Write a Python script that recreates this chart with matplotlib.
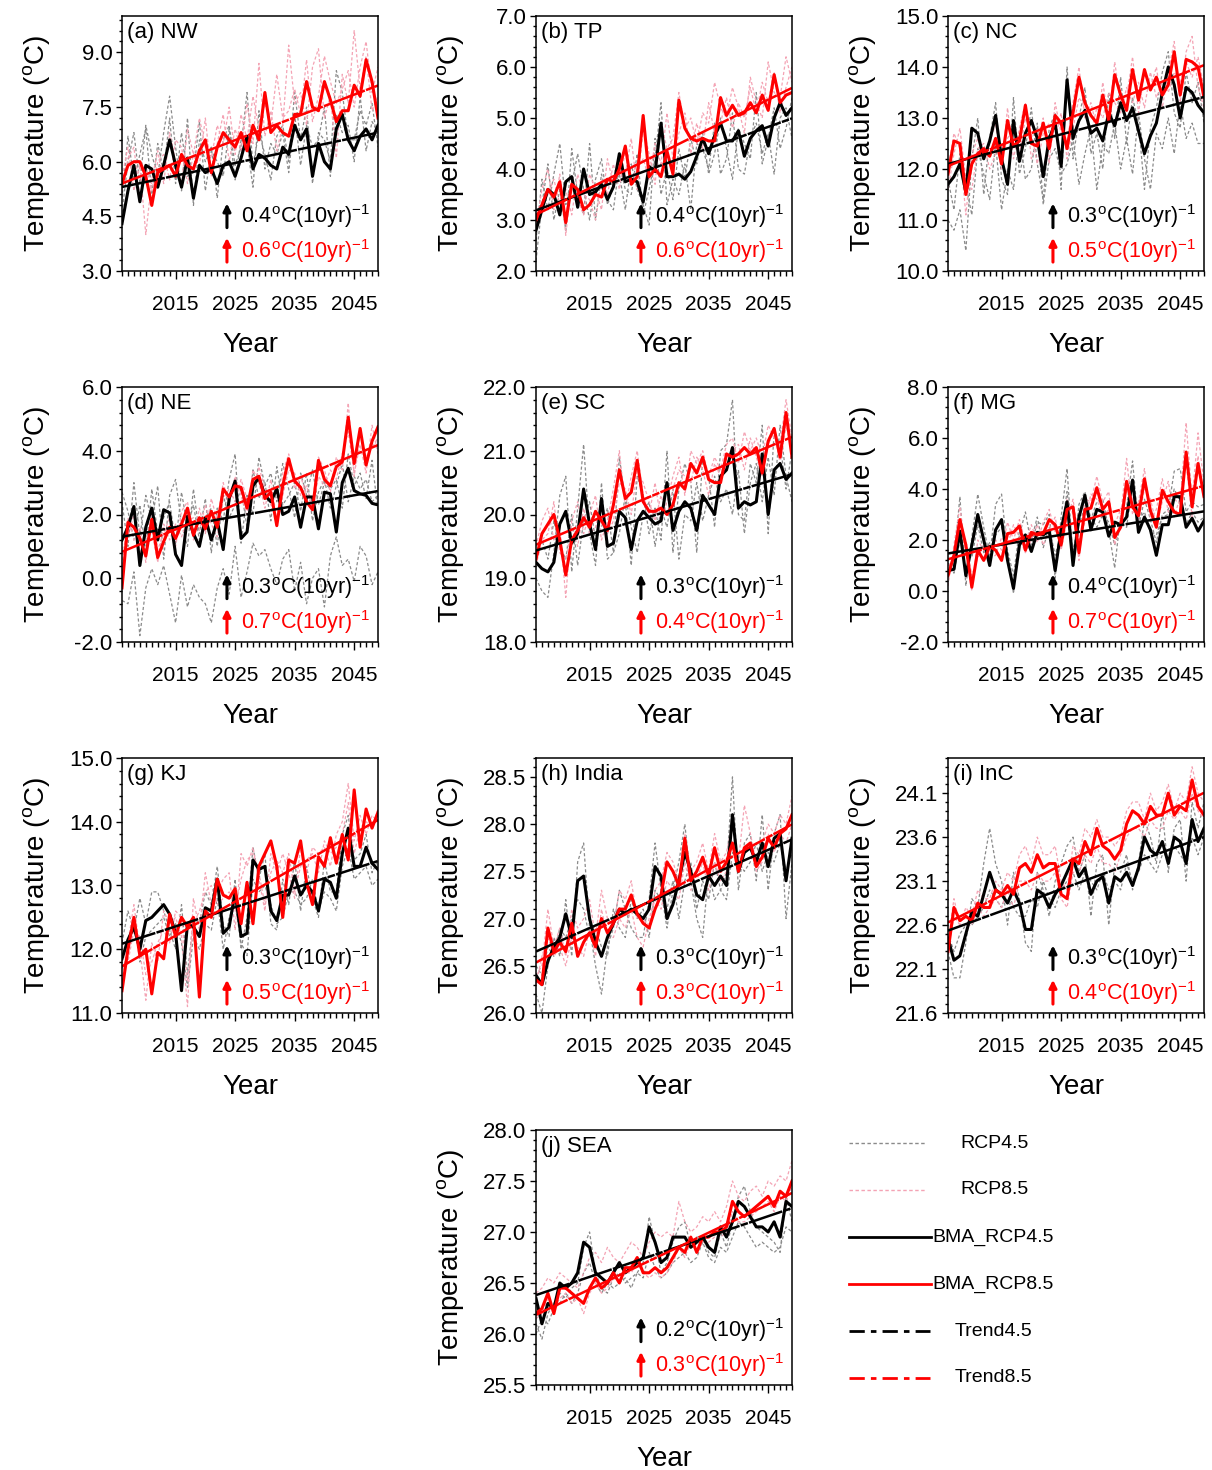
import matplotlib
matplotlib.use('Agg')
import matplotlib.pyplot as plt
from matplotlib.ticker import MultipleLocator, FixedLocator, FormatStrFormatter
import numpy as np

plt.rcParams['font.family'] = ['Liberation Sans', 'DejaVu Sans']
plt.rcParams['mathtext.fontset'] = 'custom'
plt.rcParams['mathtext.rm'] = 'Liberation Sans'
plt.rcParams['mathtext.it'] = 'Liberation Sans:italic'
plt.rcParams['mathtext.bf'] = 'Liberation Sans:bold'

years = np.arange(2006, 2050)

# ---- (a) NW ----
nw_bma45 = [4.3,5.2,5.9,4.9,5.9, 5.8,5.3,5.9,6.6,5.9, 5.3,6.1,5.0,5.9,5.7, 5.8,5.4,5.9,6.0,5.6,
            6.1,6.7,5.8,6.2,6.1, 5.9,5.8,6.4,6.2,7.0, 6.6,6.9,5.6,6.5,6.0, 5.8,6.9,7.3,6.6,6.3, 6.7,6.9,6.6,7.0]
nw_bma85 = [5.4,5.9,6.0,6.0,5.6, 4.8,5.7,5.8,5.9,5.6, 6.2,5.9,5.8,6.3,6.6, 5.7,6.4,6.8,6.6,6.4,
            6.8,6.3,7.0,6.6,7.9, 6.8,7.0,6.8,6.7,7.3, 7.3,8.2,7.5,7.4,8.2, 7.7,7.1,7.4,7.4,8.1, 7.8,8.8,8.2,7.2]
nw_rcp45 = [[4.6,6.0,6.8,5.4,7.0, 6.2,5.6,6.8,7.8,6.4, 5.2,7.2,4.8,6.6,6.0, 6.4,5.0,6.6,7.0,5.9,
             6.4,7.9,5.9,6.8,6.2, 5.5,6.7,7.0,6.0,7.9, 6.6,7.5,5.4,6.8,6.6, 6.0,8.5,7.9,6.6,6.6, 7.4,7.0,7.6,6.4],
            [5.0,6.7,5.5,6.2,6.9, 5.1,6.5,5.7,7.2,5.4, 6.8,5.6,5.7,7.1,5.2, 6.3,6.0,5.6,6.9,5.5,
             6.6,6.5,5.3,7.4,5.8, 6.5,6.2,6.8,5.7,7.3, 5.9,7.0,6.4,6.6,7.5, 5.6,7.3,6.8,7.0,6.0, 7.8,6.3,7.1,6.8]]
nw_rcp85 = [[5.6,6.4,5.2,5.9,4.0, 5.5,6.3,5.4,6.8,6.0, 5.4,6.9,6.2,5.9,7.2, 5.6,6.5,7.3,6.0,6.9,
             6.3,7.6,6.5,8.7,6.7, 7.4,6.3,7.0,9.2,7.6, 7.9,7.0,8.6,9.1,7.2, 7.8,6.1,8.4,7.6,9.6, 8.0,8.9,7.4,7.8],
            [5.2,6.1,6.4,5.0,5.9, 5.2,6.0,6.2,5.5,6.6, 6.4,5.4,6.2,7.2,6.4, 6.1,7.0,6.5,7.5,6.2,
             7.3,6.6,7.8,6.9,7.6, 7.0,8.4,7.2,7.4,8.0, 7.3,8.8,7.1,7.8,8.9, 8.2,7.6,8.0,8.5,7.5, 8.6,9.3,7.9,8.6]]

# ---- (b) TP ----
tp_bma45 = [2.8,3.2,3.6,3.5,3.1, 3.75,3.85,3.25,4.0,3.5, 3.55,3.7,3.4,3.65,4.3, 3.75,3.8,3.75,3.35,4.05,
            3.95,4.9,3.85,3.85,3.9, 3.8,3.95,4.25,4.6,4.3, 4.65,4.9,4.55,4.55,4.75, 4.25,4.6,4.75,4.85,4.45, 5.0,5.3,5.05,5.2]
tp_bma85 = [3.0,3.3,3.6,3.45,3.75, 2.95,3.7,3.6,3.2,3.3, 3.5,3.45,3.8,3.75,4.0, 4.45,3.7,3.85,5.05,3.85,
            4.0,3.85,4.35,3.9,5.35, 4.8,4.6,4.55,4.6,4.55, 4.55,5.4,5.05,5.25,5.05, 5.1,5.3,5.1,5.45,5.15, 5.85,5.3,5.45,5.5]
tp_rcp45 = [[2.2,3.3,4.1,3.0,3.6, 2.8,4.4,3.5,3.1,4.5, 3.0,3.9,3.4,3.2,4.1, 3.6,3.5,4.3,3.1,3.6,
             4.2,5.3,3.3,3.8,3.5, 4.1,3.2,4.5,4.4,4.0, 4.9,3.9,4.2,5.1,4.0, 3.9,4.6,4.9,4.3,4.7, 3.9,5.0,5.2,4.6],
            [2.6,3.8,3.2,3.9,4.5, 3.3,3.7,4.3,3.6,3.0, 3.8,4.2,3.3,3.7,3.9, 3.2,4.1,3.6,3.3,2.9,
             4.6,3.5,4.0,3.4,4.4, 3.8,4.6,4.1,4.7,3.9, 4.3,5.0,4.4,3.8,4.8, 4.5,4.2,5.5,4.1,4.6, 5.2,4.4,4.8,5.4]]
tp_rcp85 = [[2.9,3.6,4.0,3.2,3.9, 2.7,3.8,3.4,3.1,3.9, 3.6,3.2,4.2,3.7,4.3, 3.9,4.6,3.6,4.8,4.3,
             3.7,4.9,4.4,4.6,5.5, 4.8,5.0,4.5,5.1,4.9, 5.7,5.2,5.0,5.6,5.2, 4.7,5.8,5.3,5.0,6.1, 5.5,5.4,6.2,5.7],
            [3.1,3.3,3.5,3.8,3.3, 3.6,3.1,3.9,3.5,3.4, 3.0,3.8,3.5,4.1,3.6, 4.4,3.8,4.0,4.2,3.8,
             4.5,4.1,5.1,4.2,4.7, 5.1,4.3,4.9,4.4,5.3, 4.7,4.9,5.4,4.8,5.3, 5.0,5.6,5.1,5.7,5.3, 5.9,5.1,5.6,6.0]]

# ---- (c) NC ----
nc_bma45 = [11.7,11.85,12.1,11.55,12.8, 12.7,12.2,12.55,13.05,12.2, 11.7,12.95,12.15,12.7,12.95,
            12.6,11.85,12.6,12.9,12.05, 13.75,12.6,12.95,13.15,12.7, 12.8,12.55,13.1,12.85,13.3,
            12.95,13.2,12.75,12.3,12.65, 12.9,13.5,14.0,13.65,13.0, 13.6,13.5,13.25,13.1]
nc_bma85 = [11.9,12.55,12.5,11.5,12.1, 12.3,12.4,12.25,12.6,12.1, 12.95,12.45,12.55,13.25,12.5,
            12.45,12.9,12.4,13.05,12.9, 12.4,13.1,13.8,13.3,13.05, 12.9,13.45,12.95,13.85,13.45,
            13.15,13.95,13.35,13.95,13.55, 13.8,13.45,13.65,14.3,13.45, 14.15,14.1,14.0,13.4]
nc_rcp45 = [[11.0,10.8,11.2,10.4,12.2, 13.0,11.5,12.6,13.3,11.8, 11.5,13.4,11.9,12.4,13.2, 12.1,11.4,12.8,13.1,11.6,
             14.0,12.2,13.0,13.6,12.3, 12.7,12.0,13.5,12.6,13.8, 12.5,13.4,12.9,11.6,12.8, 13.2,13.9,14.3,13.1,12.8,
             13.9,13.3,13.7,12.9],
            [11.8,11.2,12.3,11.7,11.1, 12.4,11.9,11.4,12.5,11.2, 12.0,11.6,12.7,11.8,12.0, 12.9,11.3,12.2,12.4,11.9,
             12.1,12.6,11.7,12.3,12.8, 11.6,12.5,12.3,12.9,12.0, 12.6,11.9,13.1,12.2,11.6, 12.7,12.4,13.0,12.3,13.3,
             12.6,12.9,12.5,12.5]]
nc_rcp85 = [[12.0,12.7,12.4,11.1,12.3, 12.6,12.2,12.5,12.9,12.0, 13.2,12.2,12.8,13.3,12.2, 12.6,13.0,12.1,13.3,12.7,
             12.5,13.3,14.0,13.0,13.3, 12.8,13.7,12.9,14.1,13.3, 13.4,14.2,13.1,13.9,13.6, 14.0,13.2,13.9,14.5,13.3,
             14.3,14.6,13.6,13.2],
            [11.6,12.3,12.8,11.8,11.6, 12.4,12.5,12.0,12.3,12.5, 12.6,12.8,12.3,13.0,12.7, 12.1,12.7,12.9,12.6,13.1,
             12.2,12.8,13.4,13.2,12.7, 13.2,13.0,13.5,13.3,13.1, 13.6,13.3,13.7,13.2,13.9, 13.4,13.7,13.5,13.9,13.7,
             14.1,13.8,14.2,13.6]]

# ---- (d) NE ----
ne_bma45 = [1.2,1.6,2.25,0.4,1.6, 2.2,1.2,2.15,2.05,0.75, 0.4,1.95,1.4,1.0,1.9, 1.2,1.8,0.9,2.5,3.05,
            1.25,1.45,2.9,3.15,2.6, 2.4,2.8,2.0,2.1,2.55, 1.6,2.55,2.55,1.55,2.7, 2.65,1.45,3.0,3.45,2.75, 2.65,2.6,2.35,2.3]
ne_bma85 = [-0.3,1.75,1.6,1.25,0.7, 1.85,0.65,1.15,1.6,1.25, 1.7,2.2,1.35,1.9,1.55, 2.1,1.6,2.8,2.55,2.9,
            2.85,2.2,3.1,3.2,2.5, 2.7,1.65,2.9,3.75,3.05, 2.85,2.4,2.15,3.7,3.1, 2.9,3.5,3.65,5.05,3.6, 4.7,3.55,4.3,4.75]
ne_rcp45 = [[2.4,1.0,3.0,1.3,2.6, 1.8,2.9,0.6,2.6,3.1, 1.7,1.0,2.8,1.4,2.5, 0.8,2.2,1.8,3.1,3.9,
             1.1,2.6,2.0,3.8,2.9, 3.3,2.4,3.6,2.8,1.9, 3.3,2.6,3.4,2.3,3.0, 2.8,3.1,2.2,3.9,2.9, 3.3,2.5,3.7,2.1],
            [-0.7,-0.8,0.2,-1.8,-0.3, 0.3,-0.2,0.4,-0.5,-1.4, 0.1,-0.9,-0.2,-0.6,-0.8, -1.4,-0.3,0.3,-0.5,1.0,
             -0.6,0.2,1.1,0.7,0.9, 0.3,-0.2,0.6,0.9,-0.4, 0.5,-0.8,0.0,0.3,-0.9, 0.7,1.3,0.4,0.6,-0.1, 1.0,0.7,-0.2,0.2],
            [2.7,2.1,1.2,2.3,0.8, 2.8,1.4,1.9,2.4,1.1, 2.7,1.6,2.3,1.2,1.9, 2.2,1.0,2.6,1.9,2.3,
             2.8,1.6,3.4,2.5,3.0, 1.8,3.5,2.3,2.6,3.0, 2.1,3.3,1.8,2.7,3.1, 2.2,2.9,3.6,2.4,3.2, 2.8,3.1,2.4,2.6]]
ne_rcp85 = [[0.4,1.9,1.2,1.6,0.5, 2.2,0.9,1.4,1.9,1.0, 2.1,2.4,1.2,2.2,1.4, 2.5,1.8,3.0,2.3,3.2,
             2.6,2.0,3.4,3.0,2.2, 3.1,1.8,3.3,3.9,2.8, 3.2,2.6,2.4,3.8,3.4, 2.7,3.8,3.4,5.5,3.2, 4.6,3.8,4.1,4.4],
            [0.9,1.3,2.0,0.8,1.3, 1.5,0.5,1.7,1.2,1.7, 1.3,1.8,1.9,1.5,2.3, 1.7,1.3,2.5,2.8,2.4,
             3.1,2.5,2.7,3.5,2.8, 2.3,2.1,2.6,3.4,3.3, 2.6,2.9,2.2,3.2,2.9, 3.4,3.1,3.9,4.6,3.3, 4.2,3.3,4.8,3.9]]

# ---- (e) SC ----
sc_bma45 = [19.25,19.15,19.1,19.25,19.85, 20.05,19.55,19.7,20.4,19.85, 19.45,20.25,19.5,19.55,20.05,
            19.95,19.45,19.9,20.05,19.95, 19.85,19.9,20.5,19.75,20.05, 20.2,20.1,19.75,20.3,20.15,
            20.0,20.6,20.7,21.05,20.1, 20.2,20.15,20.2,20.95,20.0, 20.7,20.8,20.55,20.65]
sc_bma85 = [19.3,19.7,19.85,20.0,19.6, 19.05,19.6,19.75,19.95,19.8, 20.05,19.9,19.75,20.15,20.7,
            20.25,20.35,20.85,20.2,20.05, 20.05,20.1,20.0,20.15,20.5, 20.4,20.8,20.65,20.9,20.55,
            20.5,20.5,20.95,20.9,20.95, 21.05,20.95,21.05,20.65,21.15, 21.35,20.9,21.6,20.9]
sc_rcp45 = [[19.0,18.8,18.7,19.4,20.3, 20.6,19.1,20.1,21.1,19.7, 19.2,20.5,19.3,19.4,20.9, 20.2,19.2,20.6,20.3,19.7,
             20.1,19.6,21.0,19.4,20.4, 20.8,20.5,19.4,20.9,20.6, 19.8,21.0,21.1,21.8,20.0, 19.9,20.8,20.5,21.4,19.7,
             21.3,21.1,20.4,21.0],
            [19.4,19.6,19.3,19.9,19.5, 19.3,20.0,19.2,19.9,20.2, 19.6,19.8,20.1,19.4,19.7, 20.3,19.8,19.4,20.0,20.2,
             19.5,20.1,19.8,20.4,19.3, 20.0,19.9,20.5,19.9,20.3, 20.6,20.2,20.4,20.0,20.7, 19.7,20.5,20.8,20.2,20.9,
             20.3,21.4,20.6,20.2]]
sc_rcp85 = [[19.5,19.9,20.1,19.6,19.8, 18.7,19.9,20.2,19.7,20.0, 20.3,19.6,19.9,20.4,21.0, 20.1,20.6,21.0,20.3,20.0,
             20.5,19.9,20.2,20.6,20.9, 20.3,21.0,20.8,21.0,20.6, 20.9,20.7,21.1,21.2,20.8, 21.3,21.0,21.2,20.9,21.4,
             21.2,21.1,21.8,21.2],
            [19.2,19.6,19.7,20.2,19.4, 19.3,19.8,19.5,20.1,19.7, 19.8,20.2,19.7,19.9,20.5, 20.4,20.0,20.7,20.5,20.2,
             19.9,20.3,20.0,20.4,20.7, 20.6,20.5,20.9,20.7,20.3, 20.8,20.6,20.9,21.0,21.1, 20.7,21.2,20.9,20.6,21.1,
             21.3,20.8,21.4,21.0]]

# ---- (f) MG ----
mg_bma45 = [0.8,0.85,2.35,0.6,1.8, 3.0,2.0,1.0,2.4,2.8, 1.2,0.1,1.8,2.2,1.55, 2.3,2.2,2.35,0.8,2.4,
            3.5,1.0,2.9,3.75,2.4, 3.2,3.1,2.15,2.7,2.6, 2.9,4.35,2.3,2.9,2.4, 1.4,2.6,2.6,3.7,3.7, 2.5,2.85,2.35,2.75]
mg_bma85 = [0.6,1.4,2.8,1.8,0.15, 1.6,1.2,1.75,1.6,1.2, 2.25,2.3,2.55,1.6,2.3, 2.2,2.25,2.8,2.6,1.8,
            3.2,3.3,1.5,3.2,3.25, 4.05,3.2,3.5,2.1,2.5, 4.3,3.3,2.95,4.4,3.15, 2.5,3.95,3.5,3.1,3.0, 5.45,3.3,5.0,3.7]
mg_rcp45 = [[0.6,1.2,3.7,0.2,2.1, 3.8,2.5,1.3,3.4,3.8, 1.5,-0.1,2.2,3.1,1.8, 2.7,2.6,3.0,0.5,2.9,
             4.8,1.2,3.4,3.9,2.8, 3.5,3.6,2.4,0.9,3.0, 3.3,5.1,2.5,3.6,2.8, 1.9,3.0,3.2,4.7,4.8, 3.1,3.5,3.3,3.4],
            [1.1,0.7,2.0,1.4,1.3, 2.6,1.5,1.9,2.2,2.5, 1.6,0.6,2.4,1.9,2.0, 2.9,1.7,2.5,1.4,2.3,
             3.9,1.6,2.6,3.3,2.9, 2.5,3.0,2.7,1.8,2.6, 2.5,4.2,2.8,3.1,2.3, 2.2,2.9,3.0,4.0,3.5, 2.6,3.1,2.7,2.9]]
mg_rcp85 = [[0.2,1.8,3.3,1.5,0.0, 2.0,1.6,1.5,2.0,1.6, 2.7,2.0,2.8,1.9,2.6, 1.9,2.7,3.2,2.3,2.2,
             3.6,3.0,1.2,3.6,3.5, 4.5,3.5,3.9,1.8,2.9, 5.2,3.0,3.5,4.8,2.8, 3.2,4.4,3.1,3.6,3.4, 6.6,3.6,6.2,4.2],
            [1.0,1.2,2.3,2.0,0.6, 1.3,1.8,1.3,1.4,2.1, 1.8,2.6,2.1,1.5,2.0, 2.6,1.8,2.4,2.9,1.6,
             2.8,3.6,2.0,2.7,3.8, 3.6,2.9,3.2,2.6,3.2, 3.9,3.7,2.8,4.0,3.6, 2.6,3.5,4.3,2.9,3.7, 5.0,2.9,5.3,3.5]]

# ---- (g) KJ ----
kj_bma45 = [11.85,12.15,12.35,12.0,12.45, 12.5,12.6,12.7,12.55,12.25, 11.35,12.4,12.35,12.2,12.65,
            12.6,13.1,12.25,12.35,12.9, 12.2,12.25,13.4,13.25,13.3, 12.6,12.45,12.85,12.85,13.15,
            12.85,13.0,12.9,12.6,13.1, 13.05,12.8,13.5,13.9,13.3, 13.3,13.6,13.35,13.25]
kj_bma85 = [11.35,12.0,12.5,11.9,12.0, 11.3,11.95,11.85,12.55,12.2, 12.5,12.35,12.5,11.25,12.6,
            12.5,13.1,12.85,12.8,12.95, 12.4,13.05,12.4,13.3,13.5, 13.7,13.3,12.5,13.4,13.35,
            13.7,13.05,12.7,13.45,13.3, 13.75,13.35,13.8,13.4,14.5, 13.6,14.2,13.9,14.15]
kj_rcp45 = [[12.1,12.6,12.3,12.8,12.4, 12.9,12.9,12.6,12.3,12.0, 12.7,11.6,12.5,12.4,12.9, 12.7,13.3,12.4,12.2,13.1,
             12.0,12.5,13.6,13.1,13.5, 12.4,12.3,13.1,12.7,13.4, 12.6,13.3,12.8,12.5,13.4, 12.9,12.9,13.8,14.1,13.4,
             13.5,13.8,13.2,13.4],
            [11.7,11.9,12.5,11.8,12.2, 12.3,12.4,12.5,12.2,12.4, 12.1,11.4,12.2,12.0,12.4, 12.3,12.8,12.0,12.5,12.7,
             12.1,11.9,13.1,12.9,13.0, 12.7,12.4,12.5,12.9,12.9, 12.7,12.8,13.1,12.6,12.9, 12.8,12.6,13.3,13.6,13.1,
             13.2,13.3,13.0,13.1]]
kj_rcp85 = [[11.5,12.1,12.7,12.0,11.2, 12.1,11.8,12.6,12.4,12.5, 12.2,11.1,12.8,12.3,13.2, 12.7,12.9,13.1,13.2,12.3,
             13.5,13.3,13.6,13.1,12.6, 13.5,13.2,13.5,13.2,12.8, 13.6,13.2,13.6,13.5,13.6, 13.3,13.8,14.0,14.6,13.7,
             14.1,13.8,14.1,14.0],
            [11.9,11.8,12.3,12.2,11.6, 11.8,12.1,12.3,12.1,12.6, 12.5,11.5,12.4,12.6,12.9, 13.0,12.7,12.8,12.9,12.6,
             13.1,13.4,13.5,13.2,12.7, 13.2,13.4,13.2,13.5,12.9, 13.3,13.4,13.5,13.2,13.7, 13.5,13.6,13.8,14.3,13.5,
             13.9,14.0,13.9,14.2]]

# ---- (h) India ----
in_bma45 = [26.4,26.3,26.55,26.7,26.8, 27.05,26.8,27.4,27.45,27.0, 26.75,26.6,26.8,26.95,27.1,
            27.05,27.1,27.05,27.0,27.1, 27.55,27.45,27.0,27.15,27.4, 27.7,27.5,27.25,27.2,27.45,
            27.35,27.45,27.35,28.1,27.5, 27.7,27.75,27.6,27.8,27.55, 27.85,27.9,27.4,27.85]
in_bma85 = [26.35,26.3,26.9,26.65,26.75, 26.65,26.95,26.6,26.75,26.85, 26.7,27.0,26.85,26.95,27.1,
            27.1,27.25,27.05,26.95,26.9, 27.1,27.25,27.6,27.5,27.35, 27.85,27.4,27.5,27.65,27.45,
            27.75,27.5,27.6,27.8,27.5, 27.75,27.8,27.55,27.65,27.85, 27.75,27.9,27.95,28.1]
in_rcp45 = [[26.2,26.0,26.5,26.8,26.6, 27.2,26.6,27.6,27.8,26.9, 26.5,26.2,26.7,26.9,27.3, 27.1,26.9,26.8,26.8,27.2,
             27.8,27.3,26.9,27.3,27.6, 28.0,27.4,27.0,26.8,27.5, 27.2,27.3,27.5,28.5,27.3, 27.8,27.9,27.4,28.1,27.3,
             27.9,28.1,27.0,27.6],
            [26.5,26.4,26.7,26.6,26.9, 26.8,27.0,27.2,27.1,26.8, 26.9,26.7,26.6,27.1,26.9, 26.8,27.2,27.0,27.1,26.8,
             27.3,27.2,27.1,27.4,27.0, 27.4,27.6,27.1,27.4,27.2, 27.6,27.3,27.2,27.7,27.6, 27.5,27.6,27.8,27.5,27.7,
             27.6,27.8,27.5,27.7]]
in_rcp85 = [[26.4,26.5,27.1,26.7,26.9, 26.6,27.1,26.9,27.0,27.2, 26.8,27.3,27.0,26.9,27.3, 27.2,27.4,27.0,27.0,26.9,
             27.3,27.4,27.7,27.6,27.4, 27.9,27.5,27.6,27.8,27.5, 27.9,27.6,27.7,28.0,27.6, 28.2,27.9,27.6,27.8,28.0,
             27.9,28.1,28.0,28.3],
            [26.3,26.6,26.8,26.6,26.7, 26.5,26.8,26.7,26.6,26.9, 26.6,27.1,26.8,26.8,27.0, 26.9,27.1,26.8,26.7,27.0,
             27.2,27.1,27.4,27.3,27.2, 27.6,27.3,27.4,27.6,27.3, 27.6,27.4,27.5,27.8,27.5, 27.7,27.8,27.5,27.6,27.9,
             27.7,27.9,27.8,28.0]]

# ---- (i) InC ----
ic_bma45 = [22.45,22.2,22.25,22.5,22.75, 22.7,22.95,23.2,23.0,22.95, 22.85,23.0,22.85,22.55,22.55,
            23.0,22.95,22.8,22.95,23.05, 23.2,23.35,23.15,23.25,22.95, 23.1,23.15,22.85,23.15,23.1,
            23.2,23.05,23.25,23.6,23.45, 23.4,23.55,23.3,23.6,23.55, 23.3,23.8,23.55,23.7]
ic_bma85 = [22.3,22.8,22.65,22.7,22.65, 22.85,22.8,22.8,23.0,22.95, 23.05,22.95,23.25,23.3,23.2,
            23.4,23.25,23.3,23.3,22.95, 22.9,23.35,23.3,23.55,23.4, 23.7,23.5,23.45,23.35,23.45,
            23.75,23.9,23.85,23.75,23.95, 23.85,23.85,24.1,23.85,23.95, 23.9,24.25,23.95,23.85]
ic_rcp45 = [[22.3,22.0,22.0,22.4,22.9, 22.8,23.3,23.7,23.3,23.1, 22.6,23.2,22.9,22.4,22.3, 23.2,23.0,22.7,23.1,23.3,
             23.5,23.6,23.2,23.4,22.7, 23.3,23.4,22.6,23.3,23.2, 23.4,23.0,23.3,23.8,23.6, 23.3,23.9,23.2,23.7,23.8,
             23.1,24.0,23.7,24.0],
            [22.5,22.3,22.5,22.6,22.6, 22.7,22.8,23.0,22.9,22.8, 23.0,22.8,22.7,22.7,22.9, 22.8,23.1,22.9,22.8,23.0,
             23.1,23.2,23.0,23.2,23.1, 23.0,23.2,23.0,23.1,23.0, 23.3,23.1,23.2,23.4,23.3, 23.2,23.4,23.4,23.5,23.4,
             23.3,23.6,23.4,23.6]]
ic_rcp85 = [[22.4,22.9,22.6,22.8,22.7, 23.0,22.9,22.9,23.1,23.0, 23.2,23.1,23.4,23.5,23.3, 23.6,23.4,23.4,23.5,23.1,
             23.0,23.5,23.4,23.7,23.6, 23.8,23.6,23.6,23.5,23.6, 23.9,24.0,24.0,23.8,24.1, 23.9,24.0,24.2,23.9,24.1,
             24.0,24.4,24.1,24.0],
            [22.3,22.7,22.6,22.6,22.6, 22.8,22.7,22.8,22.9,22.8, 23.0,22.8,23.1,23.1,23.0, 23.2,23.1,23.1,23.2,22.9,
             22.8,23.2,23.2,23.4,23.3, 23.5,23.3,23.3,23.2,23.4, 23.6,23.7,23.7,23.6,23.8, 23.7,23.7,23.9,23.8,23.9,
             23.8,24.1,23.9,23.8]]

# ---- (j) SEA ----
sea_bma45 = [26.35,26.1,26.3,26.25,26.5, 26.45,26.5,26.6,26.9,26.85, 26.6,26.55,26.5,26.6,26.7,
             26.6,26.65,26.7,26.75,27.05, 26.9,26.7,26.75,26.95,26.95, 26.95,26.85,26.9,26.95,26.85,
             26.8,27.05,26.95,27.1,27.3, 27.25,27.15,27.05,27.05,27.0, 27.1,26.95,27.3,27.25]
sea_bma85 = [26.2,26.25,26.4,26.2,26.45, 26.45,26.4,26.35,26.3,26.45, 26.55,26.45,26.5,26.6,26.5,
             26.65,26.65,26.75,26.6,26.6, 26.65,26.6,26.65,26.75,26.85, 26.8,26.95,26.8,26.95,26.95,
             27.0,27.0,27.05,27.3,27.2, 27.15,27.2,27.25,27.3,27.35, 27.25,27.4,27.35,27.5]
sea_rcp45 = [[26.1,25.95,26.2,26.3,26.4, 26.35,26.45,26.5,26.85,27.0, 26.6,26.45,26.4,26.55,26.6,
              26.5,26.55,26.6,26.7,27.15, 26.9,26.6,26.7,26.9,27.05, 27.1,26.85,26.95,26.95,26.8,
              26.75,27.0,26.85,27.1,27.35, 27.45,27.2,27.05,27.0,26.95, 26.9,26.8,27.35,27.1],
             [26.0,26.15,26.1,26.25,26.3, 26.4,26.3,26.4,26.6,26.7, 26.5,26.4,26.5,26.45,26.5,
              26.55,26.45,26.6,26.55,26.8, 26.65,26.55,26.6,26.7,26.75, 26.8,26.7,26.75,26.9,26.75,
              26.7,26.85,26.8,26.95,27.1, 27.05,26.95,26.85,26.9,26.85, 26.8,26.85,27.05,27.0]]
sea_rcp85 = [[26.4,26.45,26.55,26.5,26.6, 26.55,26.5,26.45,26.6,26.75, 26.8,26.7,26.85,26.75,26.7,
              26.8,26.9,26.85,26.75,26.9, 27.0,26.95,27.0,26.95,27.3, 27.1,27.0,27.05,27.15,27.1,
              27.2,27.1,27.25,27.5,27.35, 27.3,27.4,27.45,27.35,27.5, 27.45,27.55,27.5,27.7],
             [26.15,26.2,26.35,26.25,26.35, 26.4,26.3,26.35,26.2,26.4, 26.5,26.4,26.45,26.55,26.5,
              26.6,26.6,26.7,26.6,26.55, 26.6,26.55,26.6,26.7,26.85, 26.75,26.9,26.8,26.9,26.9,
              26.95,26.95,27.0,27.2,27.1, 27.1,27.15,27.2,27.25,27.3, 27.2,27.35,27.3,27.45]]

titles = ['(a) NW', '(b) TP', '(c) NC', '(d) NE', '(e) SC', '(f) MG', '(g) KJ', '(h) India', '(i) InC', '(j) SEA']
bma45 = [nw_bma45, tp_bma45, nc_bma45, ne_bma45, sc_bma45, mg_bma45, kj_bma45, in_bma45, ic_bma45, sea_bma45]
bma85 = [nw_bma85, tp_bma85, nc_bma85, ne_bma85, sc_bma85, mg_bma85, kj_bma85, in_bma85, ic_bma85, sea_bma85]
rcp45 = [nw_rcp45, tp_rcp45, nc_rcp45, ne_rcp45, sc_rcp45, mg_rcp45, kj_rcp45, in_rcp45, ic_rcp45, sea_rcp45]
rcp85 = [nw_rcp85, tp_rcp85, nc_rcp85, ne_rcp85, sc_rcp85, mg_rcp85, kj_rcp85, in_rcp85, ic_rcp85, sea_rcp85]
trend45_txt = ['0.4', '0.4', '0.3', '0.3', '0.3', '0.4', '0.3', '0.3', '0.3', '0.2']
trend85_txt = ['0.6', '0.6', '0.5', '0.7', '0.4', '0.7', '0.5', '0.3', '0.4', '0.3']
ylims = [(3.0, 10.0), (2.0, 7.0), (10.0, 15.0), (-2.0, 6.0), (18.0, 22.0),
         (-2.0, 8.0), (11.0, 15.0), (26.0, 28.7), (21.6, 24.5), (25.5, 28.0)]
ysteps = [1.5, 1.0, 1.0, 2.0, 1.0, 2.0, 1.0, 0.5, 0.5, 0.5]

W, H = 1212, 1470
fig = plt.figure(figsize=(W / 100, H / 100), dpi=100)
fig.patch.set_facecolor('white')

col_left = [122, 536, 948]
row_top = [16, 387, 758, 1130]
aw, ah = 256, 255
slots = [(r, c) for r in range(3) for c in range(3)] + [(3, 1)]

gray = '#8a8a8a'
pink = '#f4a3b4'
red = '#ff0000'
model_ls = (0, (2.5, 1.8))
trend_ls = (0, (14, 0.5, 3, 0.5))

for k in range(10):
    r, c = slots[k]
    ax = fig.add_axes([col_left[c] / W, 1 - (row_top[r] + ah) / H, aw / W, ah / H])
    for m in rcp45[k]:
        ax.plot(years, m, color=gray, lw=0.9, ls=model_ls)
    for m in rcp85[k]:
        ax.plot(years, m, color=pink, lw=0.9, ls=model_ls)
    ax.plot(years, bma45[k], color='black', lw=2.2)
    ax.plot(years, bma85[k], color=red, lw=2.2)
    # linear trends of the BMA series
    p45 = np.polyfit(years, bma45[k], 1)
    p85 = np.polyfit(years, bma85[k], 1)
    ax.plot(years, np.polyval(p45, years), color='black', lw=1.8, ls=trend_ls)
    ax.plot(years, np.polyval(p85, years), color=red, lw=1.8, ls=trend_ls)

    ax.set_xlim(2006, 2049)
    ax.set_ylim(*ylims[k])
    ax.xaxis.set_major_locator(FixedLocator([2015, 2025, 2035, 2045]))
    ax.xaxis.set_minor_locator(MultipleLocator(1))
    st = ysteps[k]
    ax.yaxis.set_major_locator(FixedLocator(np.arange(ylims[k][0], ylims[k][1] + 1e-6, st)))
    ax.yaxis.set_minor_locator(MultipleLocator(st / 5, offset=ylims[k][0]))
    ax.yaxis.set_major_formatter(FormatStrFormatter('%.1f'))
    ax.tick_params(axis='both', which='both', direction='out', top=False, right=False, width=1.0)
    ax.tick_params(axis='x', which='major', length=6, pad=11, labelsize=15)
    ax.tick_params(axis='x', which='minor', length=3.5)
    ax.tick_params(axis='y', which='major', length=4, pad=3, labelsize=16)
    ax.tick_params(axis='y', which='minor', length=2.5)
    for s in ax.spines.values():
        s.set_linewidth(1.1)

    ax.set_ylabel('Temperature ($^{\\mathrm{o}}$C)', fontsize=20)
    ax.yaxis.set_label_coords(-0.275, 0.5)
    ax.set_xlabel('Year', fontsize=20)
    ax.xaxis.set_label_coords(0.5, -0.24)

    ax.text(0.02, 0.935, titles[k], transform=ax.transAxes, fontsize=16, va='center', ha='left')

    for txt, col, yc in [(trend45_txt[k], 'black', 0.215), (trend85_txt[k], red, 0.08)]:
        ax.annotate('', xy=(0.41, yc + 0.05), xytext=(0.41, yc - 0.045), xycoords='axes fraction',
                    arrowprops=dict(arrowstyle='-|>', color=col, lw=2.2, mutation_scale=11,
                                    shrinkA=0, shrinkB=0))
        ax.text(0.465, yc, txt + '$^{\\mathrm{o}}$C(10yr)$^{-1}$', transform=ax.transAxes,
                fontsize=15.5, color=col, va='center', ha='left')

# legend block (bottom right)
lax = fig.add_axes([820 / W, 1 - 1400 / H, 392 / W, 280 / H])
lax.set_xlim(820, 1212)
lax.set_ylim(1400, 1120)
lax.axis('off')
leg_items = [
    ('RCP4.5', gray, model_ls, 1.0, 925, 960, 1143),
    ('RCP8.5', pink, model_ls, 1.0, 925, 960, 1190),
    ('BMA_RCP4.5', 'black', '-', 2.0, 931, 932, 1237),
    ('BMA_RCP8.5', red, '-', 2.0, 931, 932, 1284),
    ('Trend4.5', 'black', (0, (5.5, 2.2, 2, 2.2)), 2.0, 930, 955, 1331),
    ('Trend8.5', red, (0, (5.5, 2.2, 2, 2.2)), 2.0, 930, 955, 1378),
]
for name, col, ls, lw, x1, xt, yy in leg_items:
    lax.plot([849, x1], [yy, yy], color=col, ls=ls, lw=lw)
    lax.text(xt, yy, name, fontsize=14, va='center', ha='left')

fig.savefig('out.png', dpi=100, facecolor='white')
